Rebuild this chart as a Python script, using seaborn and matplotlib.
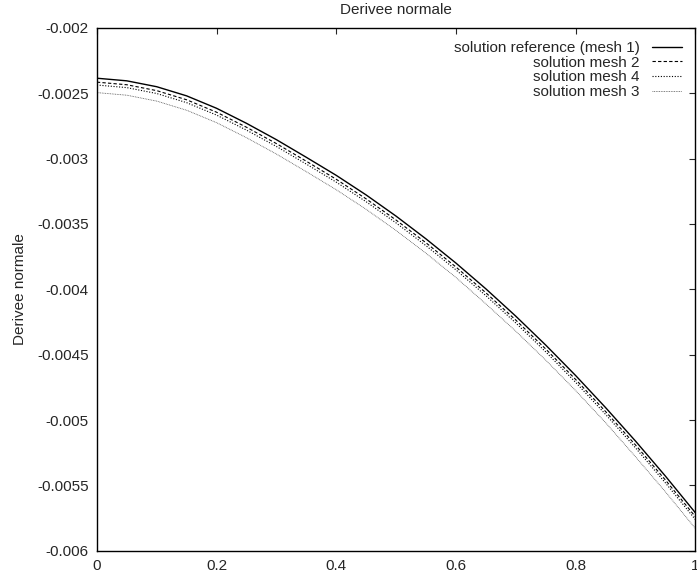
import matplotlib
matplotlib.use('Agg')
import matplotlib.pyplot as plt
from matplotlib.ticker import FuncFormatter
import seaborn as sns
import pandas as pd

# valeurs
x = [0.0, 0.05, 0.1, 0.15, 0.2, 0.25, 0.3, 0.35, 0.4, 0.45, 0.5,
     0.55, 0.6, 0.65, 0.7, 0.75, 0.8, 0.85, 0.9, 0.95, 1.0]
ref = [-0.002385, -0.002405, -0.002450, -0.002520, -0.002615, -0.002730, -0.002855,
       -0.002990, -0.003128, -0.003278, -0.003440, -0.003614, -0.003799, -0.003996,
       -0.004205, -0.004426, -0.004659, -0.004904, -0.005160, -0.005428, -0.005708]
mesh2 = [-0.002415, -0.002435, -0.002480, -0.002550, -0.002645, -0.002760, -0.002885,
         -0.003020, -0.003158, -0.003308, -0.003470, -0.003644, -0.003829, -0.004026,
         -0.004235, -0.004456, -0.004689, -0.004934, -0.005190, -0.005458, -0.005738]
mesh4 = [-0.002437, -0.002457, -0.002502, -0.002572, -0.002667, -0.002782, -0.002907,
         -0.003042, -0.003180, -0.003330, -0.003492, -0.003666, -0.003851, -0.004048,
         -0.004257, -0.004478, -0.004711, -0.004956, -0.005212, -0.005480, -0.005760]
mesh3 = [-0.002495, -0.002515, -0.002560, -0.002630, -0.002725, -0.002840, -0.002965,
         -0.003100, -0.003238, -0.003388, -0.003550, -0.003724, -0.003909, -0.004111,
         -0.004320, -0.004541, -0.004774, -0.005019, -0.005280, -0.005548, -0.005828]

labels = ['solution reference (mesh 1)', 'solution mesh 2', 'solution mesh 4', 'solution mesh 3']
series = [ref, mesh2, mesh4, mesh3]
styles = [('-', 1.0, 'black'), ((0, (3, 2)), 0.8, 'black'), ((0, (1, 1.5)), 0.8, 'black'), ((0, (1, 1)), 0.6, '#555555')]

sns.set_style('white')
plt.rcParams['font.family'] = ['Liberation Sans', 'DejaVu Sans']
plt.rcParams['font.size'] = 11

fig = plt.figure(figsize=(6.97, 5.81), dpi=100)
ax = fig.add_axes([0.139, 0.052, 0.8585, 0.900])

for lab, vals, (ls, lw, col) in zip(labels, series, styles):
    df = pd.DataFrame({'x': x, 'y': vals})
    sns.lineplot(data=df, x='x', y='y', ax=ax, color=col, linewidth=lw, linestyle=ls, label=lab)

ax.set_xlim(0, 1)
ax.set_ylim(-0.006, -0.002)
ax.set_xticks([0, 0.2, 0.4, 0.6, 0.8, 1.0])
ax.set_yticks([-0.006, -0.0055, -0.005, -0.0045, -0.004, -0.0035, -0.003, -0.0025, -0.002])
ax.xaxis.set_major_formatter(FuncFormatter(lambda v, p: '%g' % round(v, 6)))
ax.yaxis.set_major_formatter(FuncFormatter(lambda v, p: '%g' % round(v, 6)))
ax.tick_params(direction='in', top=True, right=True, length=4, width=0.8, labelsize=11, pad=6)
for s in ax.spines.values():
    s.set_linewidth(1.0)
    s.set_color('black')

ax.set_xlabel('')
ax.set_ylabel('Derivee normale', fontsize=11, labelpad=7)
ax.set_title('Derivee normale', fontsize=11, pad=10)

leg = ax.legend(loc='upper right', frameon=False, markerfirst=False, handlelength=2.0,
                labelspacing=0.05, handletextpad=0.8, borderaxespad=0.45, fontsize=11)

fig.savefig('out.png', dpi=100)
